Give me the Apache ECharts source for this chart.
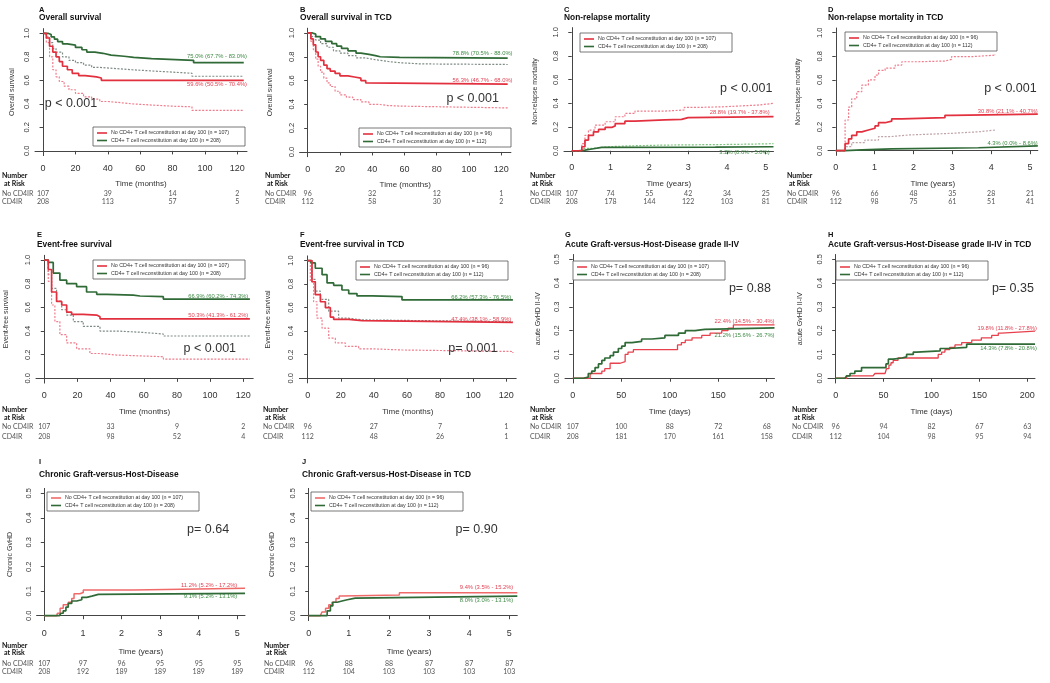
<!DOCTYPE html>
<html>
<head>
<meta charset="utf-8">
<script src="https://cdn.jsdelivr.net/npm/echarts@6/dist/echarts.min.js"></script>
<style>
  html, body { margin: 0; padding: 0; background: #fff; }
  #chart { width: 1050px; height: 683px; }
</style>
</head>
<body>
<div id="chart"></div>
<script>
'use strict';

/* ── Tick values ── */
const monthTicks = [0, 20, 40, 60, 80, 100, 120];
const yearTicks  = [0, 1, 2, 3, 4, 5];
const dayTicks   = [0, 50, 100, 150, 200];
const fullTicks  = [0, 0.2, 0.4, 0.6, 0.8, 1.0];
const halfTicks  = [0, 0.1, 0.2, 0.3, 0.4, 0.5];

const riskMonths = [0, 40, 80, 120];
const riskYears  = [0, 1, 2, 3, 4, 5];
const riskDays   = [0, 50, 100, 150, 200];

const rowLabels = ['No CD4IR', 'CD4IR'];

/* ── A: Overall survival ── */
const osGreen    = [[0,1],[3,0.99],[5,0.97],[7,0.95],[9,0.93],[12,0.91],[15,0.90],[20,0.88],[24,0.86],[27,0.84],[32,0.83],[37,0.815],[42,0.805],[50,0.795],[56,0.785],[67,0.77],[93,0.75],[124,0.75]];
const osGreenRef = [[0,1],[2,0.97],[4,0.92],[6,0.87],[8,0.84],[12,0.80],[16,0.77],[20,0.75],[25,0.73],[30,0.71],[35,0.70],[45,0.69],[55,0.68],[67,0.67],[80,0.66],[92,0.635],[124,0.635]];
const osRed      = [[0,1],[2,0.96],[4,0.89],[6,0.84],[8,0.80],[10,0.76],[12,0.72],[15,0.69],[18,0.66],[22,0.64],[26,0.63],[33,0.62],[36,0.60],[124,0.60]];
const osRedRef   = [[0,1],[2,0.92],[4,0.80],[6,0.69],[8,0.63],[10,0.59],[13,0.55],[16,0.52],[20,0.49],[25,0.46],[30,0.44],[35,0.42],[40,0.41],[48,0.40],[55,0.39],[67,0.38],[80,0.375],[92,0.345],[124,0.345]];
const osRiskNo   = [107, 39, 14, 2];
const osRiskYes  = [208, 113, 57, 5];

/* ── B: Overall survival in TCD ── */
const ostGreen    = [[0,1],[3,0.99],[5,0.97],[8,0.95],[11,0.93],[15,0.91],[18,0.89],[21,0.87],[25,0.85],[30,0.83],[33,0.82],[38,0.81],[42,0.80],[45,0.795],[57,0.788],[124,0.788]];
const ostGreenRef = [[0,1],[2,0.97],[5,0.94],[8,0.91],[12,0.88],[16,0.85],[20,0.83],[25,0.81],[30,0.79],[36,0.775],[42,0.76],[50,0.75],[57,0.74],[70,0.735],[124,0.735]];
const ostRed      = [[0,1],[2,0.95],[3.5,0.90],[5,0.84],[6.5,0.80],[8,0.77],[10,0.73],[12,0.70],[14,0.68],[17,0.66],[20,0.64],[25,0.63],[29,0.62],[33,0.60],[36,0.58],[37,0.57],[124,0.57]];
const ostRedRef   = [[0,1],[2,0.93],[3.5,0.86],[5,0.78],[6.5,0.72],[8,0.67],[10,0.62],[12,0.58],[14,0.55],[17,0.51],[20,0.48],[24,0.46],[28,0.44],[33,0.42],[38,0.40],[44,0.39],[50,0.385],[58,0.37],[124,0.37]];
const ostRiskNo   = [96, 32, 12, 1];
const ostRiskYes  = [112, 58, 30, 2];

/* ── C: Non-relapse mortality ── */
const nrmRed      = [[0,0],[0.17,0],[0.26,0.034],[0.34,0.09],[0.43,0.13],[0.56,0.16],[0.69,0.18],[0.86,0.197],[1.03,0.21],[1.12,0.23],[1.37,0.25],[1.63,0.26],[2.4,0.265],[2.83,0.28],[3.0,0.288],[5.2,0.288]];
const nrmRedRef   = [[0,0],[0.17,0],[0.26,0.06],[0.34,0.13],[0.43,0.175],[0.6,0.217],[0.86,0.245],[1.12,0.287],[1.37,0.315],[1.63,0.335],[2.4,0.344],[2.9,0.366],[3.26,0.372],[3.95,0.386],[4.8,0.40],[5.2,0.402]];
const nrmGreen    = [[0,0],[0.17,0],[0.2,0.005],[0.34,0.015],[0.52,0.028],[0.77,0.03],[3.7,0.034],[5.2,0.034]];
const nrmGreenRef = [[0,0],[0.17,0],[0.3,0.02],[0.52,0.034],[0.94,0.042],[1.55,0.048],[2.4,0.053],[3.95,0.056],[4.6,0.06],[5.2,0.06]];
const nrmRiskNo   = [107, 74, 55, 42, 34, 25];
const nrmRiskYes  = [208, 178, 144, 122, 103, 81];

/* ── D: Non-relapse mortality in TCD ── */
const nrmtRed      = [[0,0],[0.15,0],[0.24,0.06],[0.33,0.10],[0.41,0.13],[0.54,0.16],[0.67,0.175],[0.84,0.19],[1.01,0.21],[1.1,0.237],[1.27,0.25],[1.44,0.27],[1.7,0.28],[2.81,0.30],[2.98,0.31],[5.2,0.31]];
const nrmtRedRef   = [[0,0],[0.15,0],[0.24,0.26],[0.33,0.37],[0.41,0.44],[0.54,0.50],[0.67,0.556],[0.84,0.60],[1.01,0.64],[1.1,0.68],[1.27,0.70],[1.53,0.726],[1.7,0.754],[2.13,0.76],[2.81,0.774],[2.98,0.797],[3.5,0.81],[4.1,0.82]];
const nrmtGreen    = [[0,0],[0.15,0],[0.24,0.006],[0.67,0.015],[1.44,0.025],[3.67,0.04],[5.2,0.04]];
const nrmtGreenRef = [[0,0],[0.15,0],[0.24,0.034],[0.41,0.068],[0.75,0.09],[1.1,0.12],[1.44,0.133],[1.87,0.147],[2.98,0.16],[3.67,0.175],[4.1,0.175]];
const nrmtRiskNo   = [96, 66, 48, 35, 28, 21];
const nrmtRiskYes  = [112, 98, 75, 61, 51, 41];

/* ── E: Event-free survival ── */
const efsGreen    = [[0,1],[2.4,0.98],[5.4,0.89],[9.4,0.83],[13.5,0.80],[19.5,0.775],[25.5,0.73],[31.6,0.71],[37.6,0.704],[53.7,0.696],[57.7,0.69],[71.8,0.67],[124,0.669]];
const efsGreenRef = [[0,1],[2.4,0.88],[4.4,0.76],[7.4,0.65],[10.5,0.58],[13.5,0.535],[17.5,0.48],[23.5,0.44],[33.6,0.40],[43.6,0.39],[57.7,0.375],[71.8,0.358],[124,0.355]];
const efsRed      = [[0,1],[2.4,0.92],[4.4,0.73],[7.4,0.65],[10.5,0.62],[13.5,0.56],[16.5,0.54],[23.5,0.535],[31.6,0.52],[33.6,0.503],[124,0.503]];
const efsRedRef   = [[0,1],[2.4,0.82],[4.4,0.62],[6.4,0.48],[9.4,0.37],[13.5,0.30],[19.5,0.25],[27.5,0.21],[33.6,0.197],[43.6,0.19],[57.7,0.183],[71.8,0.163],[124,0.16]];
const efsRiskNo   = [107, 33, 9, 2];
const efsRiskYes  = [208, 98, 52, 4];

/* ── F: Event-free survival in TCD ── */
const efstGreen    = [[0,1],[2,0.98],[4.6,0.935],[8.7,0.88],[11.7,0.81],[15.7,0.79],[20.7,0.75],[24.8,0.72],[29.8,0.70],[38.9,0.694],[57,0.666],[124,0.662]];
const efstGreenRef = [[0,1],[2.6,0.84],[4.6,0.74],[7.7,0.67],[12.7,0.57],[18.7,0.51],[24.8,0.496],[32.8,0.48],[124,0.475]];
const efstRed      = [[0,1],[2.6,0.82],[4.6,0.71],[7.7,0.65],[10.7,0.60],[13.7,0.52],[15.7,0.50],[24.8,0.49],[32.8,0.474],[124,0.474]];
const efstRedRef   = [[0,1],[1.6,0.82],[3.6,0.65],[5.6,0.51],[8.7,0.425],[12.7,0.34],[16.7,0.30],[22.7,0.27],[30.8,0.25],[38.9,0.24],[57,0.227],[124,0.215]];
const efstRiskNo   = [96, 27, 7, 1];
const efstRiskYes  = [112, 48, 26, 1];

/* ── G: Acute GvHD II-IV ── */
const agvhdRed   = [[0,0],[12.7,0],[17.9,0.02],[30,0.03],[33,0.04],[38.5,0.063],[49,0.07],[54,0.10],[57,0.11],[62.5,0.12],[108,0.14],[112,0.15],[116,0.16],[123,0.17],[133,0.18],[141.6,0.19],[153.6,0.20],[160,0.21],[165.6,0.224],[208,0.224]];
const agvhdGreen = [[0,0],[11,0.005],[16,0.02],[19.6,0.03],[23,0.045],[26.5,0.06],[30,0.075],[33,0.085],[38.5,0.095],[42,0.11],[47,0.125],[50.5,0.135],[54,0.15],[61,0.155],[71,0.165],[81.4,0.17],[95,0.18],[109,0.19],[116,0.20],[126,0.205],[136,0.212],[208,0.212]];
const agvhdRiskNo  = [107, 100, 88, 72, 68];
const agvhdRiskYes = [208, 181, 170, 161, 158];

/* ── H: Acute GvHD II-IV in TCD ── */
const agvhdtRed   = [[0,0],[11.5,0.01],[39,0.01],[41,0.02],[51.5,0.02],[53,0.04],[55.6,0.055],[57.7,0.065],[60,0.075],[65,0.085],[107,0.10],[110.6,0.11],[114,0.12],[119,0.13],[124.5,0.14],[131.5,0.15],[142,0.16],[152,0.17],[162.8,0.18],[169.7,0.19],[173,0.198],[208,0.198]];
const agvhdtGreen = [[0,0],[9.7,0],[11.5,0.01],[15,0.02],[20,0.03],[27,0.045],[52.5,0.06],[55,0.08],[60,0.085],[69,0.09],[74,0.10],[81,0.11],[84.5,0.115],[109,0.125],[117.6,0.13],[136.7,0.143],[208,0.143]];
const agvhdtRiskNo  = [96, 94, 82, 67, 63];
const agvhdtRiskYes = [112, 104, 98, 95, 94];

/* ── I: Chronic GvHD ── */
const cgvhdRed   = [[0,0],[0.32,0],[0.34,0.01],[0.41,0.03],[0.49,0.045],[0.62,0.055],[0.71,0.07],[0.77,0.09],[0.92,0.095],[1.01,0.105],[2.31,0.112],[5.2,0.112]];
const cgvhdGreen = [[0,0],[0.39,0],[0.43,0.01],[0.49,0.02],[0.56,0.035],[0.62,0.05],[0.71,0.06],[0.84,0.065],[0.97,0.075],[1.1,0.08],[1.23,0.087],[1.4,0.091],[5.2,0.091]];
const cgvhdRiskNo  = [107, 97, 96, 95, 95, 95];
const cgvhdRiskYes = [208, 192, 189, 189, 189, 189];

/* ── J: Chronic GvHD in TCD ── */
const cgvhdtRed   = [[0,0],[0.29,0],[0.33,0.015],[0.42,0.03],[0.5,0.045],[0.58,0.055],[0.68,0.07],[0.76,0.08],[0.83,0.085],[2.26,0.094],[5.2,0.094]];
const cgvhdtGreen = [[0,0],[0.37,0],[0.46,0.02],[0.54,0.04],[0.6,0.055],[0.71,0.06],[0.83,0.065],[0.96,0.072],[1.16,0.08],[5.2,0.08]];
const cgvhdtRiskNo  = [96, 88, 88, 87, 87, 87];
const cgvhdtRiskYes = [112, 104, 103, 103, 103, 103];

/* ── Styles ── */
const FONT = '"Liberation Sans", Arial, sans-serif';
const RISK_FONT = 'Lato, "Liberation Sans", sans-serif';

const lineStyles = {
  green:     { color: '#2f6a37', width: 1.7, type: 'solid' },
  red:       { color: '#e2303f', width: 1.7, type: 'solid' },
  redThin:   { color: '#e8404c', width: 1.3, type: 'solid' },
  redLight:  { color: '#f06a6a', width: 1.5, type: 'solid' },
  grayDot:   { color: '#7f8c84', width: 1.2, type: [2, 1.5] },
  pinkDot:   { color: '#f07c8c', width: 1.2, type: [2, 1.5] },
  lgreenDot: { color: '#7cc47c', width: 1.2, type: [2, 1.5] },
  mauveDot:  { color: '#bfa3a8', width: 1.2, type: [2, 1.5] }
};

const ROWS = [
  { letter: 9.5, title: 17.3, num: 176,   risk: 184, no: 194, yes: 201.5, nameGap: 24 },
  { letter: 235, title: 244.5, num: 410,  risk: 418, no: 427, yes: 436.5, nameGap: 25 },
  { letter: 462, title: 475,  num: 645.7, risk: 653, no: 664, yes: 671.7, nameGap: 27.5 }
];

/* ── Panel definitions (data refs + layout) ── */
const panels = [
  { letter: 'A', title: 'Overall survival', yName: 'Overall survival', xName: 'Time (months)', row: 0,
    xTicks: monthTicks, yTicks: fullTicks, riskT: riskMonths, riskNo: osRiskNo, riskYes: osRiskYes, n: [107, 208],
    curves: [[osGreenRef, 'grayDot'], [osRedRef, 'pinkDot'], [osGreen, 'green'], [osRed, 'red']],
    legendRed: 'red', pval: 'p < 0.001', pPos: [1, 0.40],
    est: [['75.0% (67.7% - 83.0%)', '#3f8a45', 0.80], ['59.6% (50.5% - 70.4%)', '#e04455', 0.565]], estX: 126,
    grid: [35, 28.6, 212, 127], xr: [-5, 126], yr: [-0.04, 1.04], titleX: 39, labelX: 2, yGap: 19.5, legend: [93, 127] },
  { letter: 'B', title: 'Overall survival in TCD', yName: 'Overall survival', xName: 'Time (months)', row: 0,
    xTicks: monthTicks, yTicks: fullTicks, riskT: riskMonths, riskNo: ostRiskNo, riskYes: ostRiskYes, n: [96, 112],
    curves: [[ostGreenRef, 'grayDot'], [ostRedRef, 'pinkDot'], [ostGreen, 'green'], [ostRed, 'red']],
    legendRed: 'red', pval: 'p < 0.001', pPos: [86, 0.45],
    est: [['78.8% (70.5% - 88.0%)', '#3f8a45', 0.83], ['56.3% (46.7% - 68.0%)', '#e04455', 0.60]], estX: 127,
    grid: [299.6, 28.2, 211.3, 128.5], xr: [-5, 126], yr: [-0.04, 1.04], titleX: 300, labelX: 265, yGap: 26.5, legend: [359, 128] },
  { letter: 'C', title: 'Non-relapse mortality', yName: 'Non-relapse mortality', xName: 'Time (years)', row: 0,
    xTicks: yearTicks, yTicks: fullTicks, riskT: riskYears, riskNo: nrmRiskNo, riskYes: nrmRiskYes, n: [107, 208],
    curves: [[nrmGreenRef, 'lgreenDot'], [nrmRedRef, 'pinkDot'], [nrmGreen, 'green'], [nrmRed, 'red']],
    legendRed: 'red', pval: 'p < 0.001', pPos: [3.82, 0.527],
    est: [['28.8% (19.7% - 37.8%)', '#e04455', 0.32], ['3.2% (0.6% - 5.8%)', '#3f8a45', -0.01]], estX: 5.1,
    grid: [564, 27.6, 209.5, 127.9], xr: [-0.2, 5.2], yr: [-0.04, 1.04], titleX: 564, labelX: 530, yGap: 25.5, legend: [580, 33] },
  { letter: 'D', title: 'Non-relapse mortality in TCD', yName: 'Non-relapse mortality', xName: 'Time (years)', row: 0,
    xTicks: yearTicks, yTicks: fullTicks, riskT: riskYears, riskNo: nrmtRiskNo, riskYes: nrmtRiskYes, n: [96, 112],
    curves: [[nrmtGreenRef, 'mauveDot'], [nrmtRedRef, 'pinkDot'], [nrmtGreen, 'green'], [nrmtRed, 'red']],
    legendRed: 'red', pval: 'p < 0.001', pPos: [3.82, 0.529],
    est: [['30.8% (21.1% - 40.7%)', '#e04455', 0.33], ['4.3% (0.0% - 8.6%)', '#3f8a45', 0.063]], estX: 5.2,
    grid: [828, 28, 209.8, 127.4], xr: [-0.2, 5.2], yr: [-0.04, 1.04], titleX: 828, labelX: 787, yGap: 26.5, legend: [845, 32] },
  { letter: 'E', title: 'Event-free survival', yName: 'Event-free survival', xName: 'Time (months)', row: 1,
    xTicks: monthTicks, yTicks: fullTicks, riskT: riskMonths, riskNo: efsRiskNo, riskYes: efsRiskYes, n: [107, 208],
    curves: [[efsGreenRef, 'grayDot'], [efsRedRef, 'pinkDot'], [efsGreen, 'green'], [efsRed, 'red']],
    legendRed: 'red', pval: 'p < 0.001', pPos: [84, 0.254],
    est: [['66.9% (60.2% - 74.3%)', '#3f8a45', 0.695], ['50.3% (41.3% - 61.2%)', '#e04455', 0.535]], estX: 123,
    grid: [36, 255.3, 217.2, 127.8], xr: [-5, 126], yr: [-0.04, 1.04], titleX: 37, labelX: 2, yGap: 26.5, legend: [93, 260] },
  { letter: 'F', title: 'Event-free survival in TCD', yName: 'Event-free survival', xName: 'Time (months)', row: 1,
    xTicks: monthTicks, yTicks: fullTicks, riskT: riskMonths, riskNo: efstRiskNo, riskYes: efstRiskYes, n: [96, 112],
    curves: [[efstGreenRef, 'grayDot'], [efstRedRef, 'pinkDot'], [efstGreen, 'green'], [efstRed, 'red']],
    legendRed: 'red', pval: 'p= 0.001', pPos: [85, 0.254],
    est: [['66.2% (57.3% - 76.5%)', '#3f8a45', 0.69], ['47.4% (38.1% - 58.9%)', '#e04455', 0.50]], estX: 123,
    grid: [299.4, 255.9, 216.8, 127], xr: [-5, 126], yr: [-0.04, 1.04], titleX: 300, labelX: 263, yGap: 27.5, legend: [356, 261] },
  { letter: 'G', title: 'Acute Graft-versus-Host-Disease grade II-IV', yName: 'acute GvHD II-IV', xName: 'Time (days)', row: 1,
    xTicks: dayTicks, yTicks: halfTicks, riskT: riskDays, riskNo: agvhdRiskNo, riskYes: agvhdRiskYes, n: [107, 208],
    curves: [[agvhdRed, 'redThin'], [agvhdGreen, 'green']],
    legendRed: 'redThin', pval: 'p= 0.88', pPos: [161, 0.378],
    est: [['22.4% (14.5% - 30.4%)', '#e04455', 0.238], ['21.2% (15.6% - 26.7%)', '#3f8a45', 0.182]], estX: 208,
    grid: [565, 254.5, 209.5, 128.5], xr: [-8, 208], yr: [-0.02, 0.52], titleX: 565, labelX: 530, yGap: 23.5, legend: [573, 261] },
  { letter: 'H', title: 'Acute Graft-versus-Host-Disease grade II-IV in TCD', yName: 'acute GvHD II-IV', xName: 'Time (days)', row: 1,
    xTicks: dayTicks, yTicks: halfTicks, riskT: riskDays, riskNo: agvhdtRiskNo, riskYes: agvhdtRiskYes, n: [96, 112],
    curves: [[agvhdtRed, 'redThin'], [agvhdtGreen, 'green']],
    legendRed: 'redThin', pval: 'p= 0.35', pPos: [163, 0.378],
    est: [['19.8% (11.8% - 27.8%)', '#e04455', 0.21], ['14.3% (7.8% - 20.8%)', '#3f8a45', 0.126]], estX: 210,
    grid: [828, 254.5, 207, 128.5], xr: [-8, 208], yr: [-0.02, 0.52], titleX: 828, labelX: 792, yGap: 24.5, legend: [836, 261] },
  { letter: 'I', title: 'Chronic Graft-versus-Host-Disease', yName: 'Chronic GvHD', xName: 'Time (years)', row: 2,
    xTicks: yearTicks, yTicks: halfTicks, riskT: riskYears, riskNo: cgvhdRiskNo, riskYes: cgvhdRiskYes, n: [107, 208],
    curves: [[cgvhdRed, 'redLight'], [cgvhdGreen, 'green']],
    legendRed: 'redLight', pval: 'p= 0.64', pPos: [3.7, 0.35],
    est: [['11.2% (5.2% - 17.2%)', '#e04455', 0.125], ['9.1% (5.2% - 13.1%)', '#3f8a45', 0.08]], estX: 5.0,
    grid: [36.6, 488.4, 208.4, 132.2], xr: [-0.2, 5.2], yr: [-0.02, 0.52], titleX: 39, labelX: 2, yGap: 23.5, legend: [47, 492] },
  { letter: 'J', title: 'Chronic Graft-versus-Host-Disease in TCD', yName: 'Chronic GvHD', xName: 'Time (years)', row: 2,
    xTicks: yearTicks, yTicks: halfTicks, riskT: riskYears, riskNo: cgvhdtRiskNo, riskYes: cgvhdtRiskYes, n: [96, 112],
    curves: [[cgvhdtRed, 'redLight'], [cgvhdtGreen, 'green']],
    legendRed: 'redLight', pval: 'p= 0.90', pPos: [3.66, 0.35],
    est: [['9.4% (3.5% - 15.2%)', '#e04455', 0.114], ['8.0% (3.0% - 13.1%)', '#3f8a45', 0.064]], estX: 5.1,
    grid: [300.7, 488.4, 216.6, 132.2], xr: [-0.2, 5.2], yr: [-0.02, 0.52], titleX: 302, labelX: 264, yGap: 25.5, legend: [311, 492] }
];

/* ── Base option ── */
const chart = echarts.init(document.getElementById('chart'), null, { renderer: 'canvas' });

const grids = [], xAxes = [], yAxes = [], series = [];
const axisCol = '#454545';

panels.forEach((p, i) => {
  grids.push({ left: p.grid[0], top: p.grid[1], width: p.grid[2], height: p.grid[3] });
  xAxes.push({
    type: 'value', gridIndex: i, min: p.xr[0], max: p.xr[1],
    axisLine: { show: true, lineStyle: { color: axisCol, width: 1 } },
    axisTick: { show: true, length: 3.5, customValues: p.xTicks, lineStyle: { color: axisCol } },
    axisLabel: { customValues: p.xTicks, fontSize: 9, color: '#333', margin: 8, fontFamily: FONT },
    splitLine: { show: false },
    name: p.xName, nameLocation: 'middle', nameGap: ROWS[p.row].nameGap,
    nameTextStyle: { fontSize: 8, color: '#333', fontFamily: FONT }
  });
  yAxes.push({
    type: 'value', gridIndex: i, min: p.yr[0], max: p.yr[1],
    axisLine: { show: true, lineStyle: { color: axisCol, width: 1 } },
    axisTick: { show: true, length: 3.5, customValues: p.yTicks, lineStyle: { color: axisCol } },
    axisLabel: { customValues: p.yTicks, fontSize: 7.5, color: '#333', margin: 4, rotate: 90,
      fontFamily: FONT, formatter: v => v.toFixed(1) },
    splitLine: { show: false },
    name: p.yName, nameLocation: 'middle', nameGap: p.yGap, nameRotate: 90,
    nameTextStyle: { fontSize: 7, color: '#333', fontFamily: FONT }
  });
  p.curves.forEach(([data, key]) => {
    series.push({
      type: 'line', xAxisIndex: i, yAxisIndex: i, data: data, step: 'end',
      symbol: 'none', showSymbol: false, silent: true,
      z: key.endsWith('Dot') ? 2 : 3,
      lineStyle: Object.assign({}, lineStyles[key])
    });
  });
});

chart.setOption({
  animation: false,
  backgroundColor: '#fff',
  grid: grids, xAxis: xAxes, yAxis: yAxes, series: series
});

/* ── Texts, legends, risk tables ── */
function txt(x, y, text, o) {
  o = o || {};
  return {
    type: 'text', x: x, y: y, z: 10, silent: true,
    style: {
      text: text, fill: o.fill || '#222', fontSize: o.size || 8, fontFamily: o.family || FONT,
      fontWeight: o.weight || 'normal',
      align: o.align || 'left', verticalAlign: 'middle',
      textAlign: o.align || 'left', textVerticalAlign: 'middle'
    }
  };
}

const g = [];
panels.forEach((p, i) => {
  const R = ROWS[p.row];
  g.push(txt(p.titleX, R.letter, p.letter, { weight: 'bold', size: 7.5, fill: '#111' }));
  g.push(txt(p.titleX, R.title, p.title, { weight: 'bold', size: 8.4, fill: '#111' }));

  // legend box
  const lx = p.legend[0], ly = p.legend[1];
  g.push({ type: 'rect', z: 8, silent: true, shape: { x: lx, y: ly, width: 152, height: 19 },
    style: { fill: '#fff', stroke: '#555', lineWidth: 0.8 } });
  g.push({ type: 'line', z: 9, silent: true, shape: { x1: lx + 4, y1: ly + 6, x2: lx + 14, y2: ly + 6 },
    style: { stroke: lineStyles[p.legendRed].color, lineWidth: 1.6 } });
  g.push({ type: 'line', z: 9, silent: true, shape: { x1: lx + 4, y1: ly + 13.5, x2: lx + 14, y2: ly + 13.5 },
    style: { stroke: lineStyles.green.color, lineWidth: 1.6 } });
  g.push(txt(lx + 18, ly + 6, 'No CD4+ T cell reconstitution at day 100 (n = ' + p.n[0] + ')', { size: 5.3, fill: '#333' }));
  g.push(txt(lx + 18, ly + 13.5, 'CD4+ T cell reconstitution at day 100 (n = ' + p.n[1] + ')', { size: 5.3, fill: '#333' }));

  // p-value
  const pp = chart.convertToPixel({ gridIndex: i }, p.pPos);
  g.push(txt(pp[0], pp[1], p.pval, { size: 12.5, fill: '#333' }));

  // estimates
  p.est.forEach(([t, c, yv]) => {
    const ep = chart.convertToPixel({ gridIndex: i }, [p.estX, yv]);
    g.push(txt(ep[0], ep[1], t, { size: 5.8, fill: c, align: 'right' }));
  });

  // risk table
  g.push(txt(p.labelX, R.num, 'Number', { weight: 'bold', size: 7, fill: '#111', family: RISK_FONT }));
  g.push(txt(p.labelX + 2, R.risk, 'at Risk', { weight: 'bold', size: 7, fill: '#111', family: RISK_FONT }));
  g.push(txt(p.labelX, R.no, rowLabels[0], { size: 7, fill: '#555', family: RISK_FONT }));
  g.push(txt(p.labelX, R.yes, rowLabels[1], { size: 7, fill: '#555', family: RISK_FONT }));
  p.riskT.forEach((t, k) => {
    const px = chart.convertToPixel({ xAxisIndex: i }, t);
    g.push(txt(px, R.no, String(p.riskNo[k]), { size: 7, fill: '#555', family: RISK_FONT, align: 'center' }));
    g.push(txt(px, R.yes, String(p.riskYes[k]), { size: 7, fill: '#555', family: RISK_FONT, align: 'center' }));
  });
});

chart.setOption({ graphic: { elements: g } });
window.addEventListener('resize', () => chart.resize());
</script>
</body>
</html>
